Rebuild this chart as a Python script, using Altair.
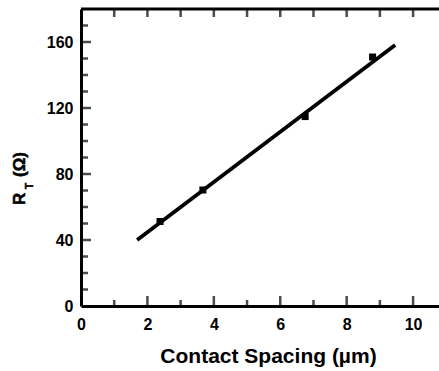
import altair as alt
import pandas as pd

# measured points
pts_x = [2.38, 3.67, 6.75, 8.78]
pts_y = [51.2, 70.3, 114.8, 150.9]
# fitted line end points
fit_x = [1.69, 9.46]
fit_y = [40.0, 158.2]
# tick positions
x_ticks_major = [2, 4, 6, 8, 10]
x_ticks_minor = [1, 3, 5, 7, 9]
x_ticks_top = [1, 2, 3, 4, 5, 6, 7, 8, 9, 10]
y_ticks_major = [40, 80, 120, 160]
y_ticks_minor = [10, 20, 30, 50, 60, 70, 90, 100, 110, 130, 140, 150, 170]
x_labels = [0, 2, 4, 6, 8, 10]
y_labels = [0, 40, 80, 120, 160]

FONT = "Liberation Sans"
XDOM = [0, 10.78]
YDOM = [0, 180]

xs = alt.Scale(domain=XDOM, nice=False, zero=False)
ys = alt.Scale(domain=YDOM, nice=False, zero=False)

pts = pd.DataFrame({"x": pts_x, "y": pts_y})
fit = pd.DataFrame({"x": fit_x, "y": fit_y})

xaxis = alt.Axis(values=x_labels, tickSize=0, labelPadding=10, labelFontSize=16,
                 labelFont=FONT, labelFontWeight="bold", labelColor="black",
                 labelBaseline="top", domainColor="black", domainWidth=3,
                 grid=False, title="Contact Spacing (µm)", titleFont=FONT,
                 titleFontSize=21, titleFontWeight="bold", titleColor="black",
                 titleX=187, titleY=56, titleBaseline="alphabetic", labelFlush=False)
yaxis = alt.Axis(values=y_labels, tickSize=0, labelPadding=8, labelFontSize=16,
                 labelFont=FONT, labelFontWeight="bold", labelColor="black",
                 domainColor="black", domainWidth=3, grid=False, title=None,
                 labelFlush=False)

line = alt.Chart(fit).mark_line(color="black", strokeWidth=3.8).encode(
    x=alt.X("x:Q", scale=xs, axis=xaxis),
    y=alt.Y("y:Q", scale=ys, axis=yaxis),
)
points = alt.Chart(pts).mark_square(color="black", size=49, opacity=1).encode(
    x=alt.X("x:Q", scale=xs), y=alt.Y("y:Q", scale=ys)
)

top_rule = alt.Chart(pd.DataFrame({"y": [YDOM[1]]})).mark_rule(color="black", strokeWidth=3).encode(
    y=alt.Y("y:Q", scale=ys)
)

def xt(vals, size, top=False):
    df = pd.DataFrame({"x": vals})
    yv = YDOM[1] if top else YDOM[0]
    off = size / 2 if top else -size / 2
    return alt.Chart(df).mark_tick(orient="vertical", color="black", thickness=2.5,
                                   size=size, yOffset=off).encode(
        x=alt.X("x:Q", scale=xs), y=alt.datum(yv, scale=ys)
    )

def yt(vals, size):
    df = pd.DataFrame({"y": vals})
    return alt.Chart(df).mark_tick(orient="horizontal", color="black", thickness=2.5,
                                   size=size, xOffset=size / 2).encode(
        y=alt.Y("y:Q", scale=ys), x=alt.datum(0, scale=xs)
    )

def label(txt, x, y, fs):
    return alt.Chart(pd.DataFrame({"t": [txt]})).mark_text(
        angle=270, align="left", baseline="alphabetic", font=FONT,
        fontWeight="bold", fontSize=fs, color="black", stroke="black", strokeWidth=0.5
    ).encode(text="t:N", x=alt.value(x), y=alt.value(y))

chart = alt.layer(
    line, points, top_rule,
    xt(x_ticks_major, 10), xt(x_ticks_minor, 6), xt(x_ticks_top, 8, top=True),
    yt(y_ticks_major, 10), yt(y_ticks_minor, 7),
    label("R", -56, 196, 17), label("T", -48, 180, 10), label("(Ω)", -56, 168, 17),
).properties(
    width=358, height=297,
    padding={"left": 81, "top": 9, "right": 0, "bottom": 65},
    autosize=alt.AutoSizeParams(type="none"),
).configure_view(stroke=None).configure(background="white")

chart.save("out.html", embed_options={"renderer": "svg", "actions": False})
